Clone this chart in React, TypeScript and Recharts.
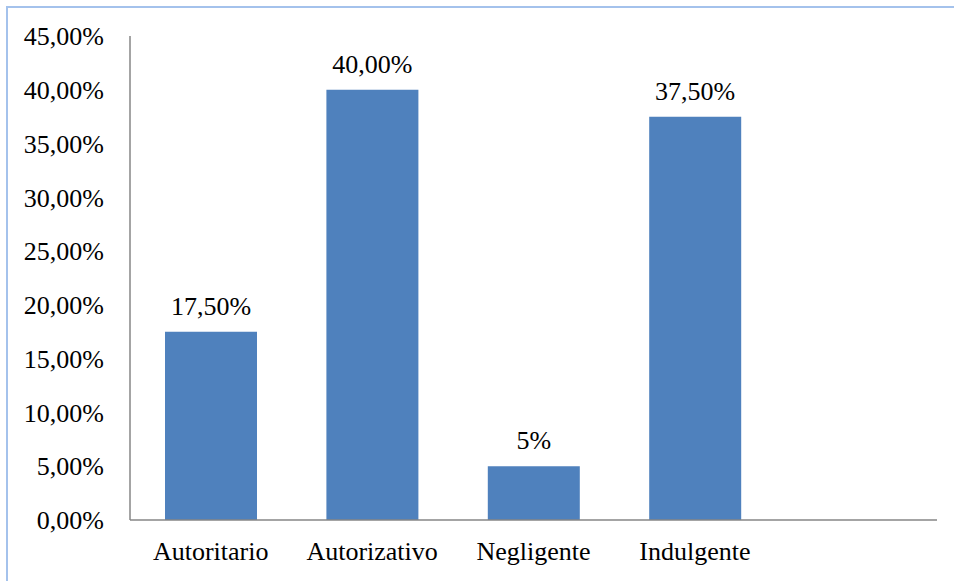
import React from "react";
import { BarChart, Bar, XAxis, YAxis, LabelList } from "recharts";

const categories = ["Autoritario", "Autorizativo", "Negligente", "Indulgente", ""];
const values: (number | null)[] = [17.5, 40, 5, 37.5, null];
const valueLabels = ["17,50%", "40,00%", "5%", "37,50%", ""];
const yTicks = [0, 5, 10, 15, 20, 25, 30, 35, 40, 45];

const data = categories.map((c, i) => ({ name: c, value: values[i], label: valueLabels[i] }));

const fmt = (v: number) => v.toFixed(2).replace(".", ",") + "%";
const font = "'Liberation Serif', 'Times New Roman', serif";

export default function App() {
  return (
    <div style={{ position: "fixed", left: 0, top: 0, width: 954, height: 581, background: "#fff" }}>
      <div
        style={{
          position: "absolute",
          left: 6,
          top: 6,
          right: 0,
          bottom: 0,
          borderTop: "2px solid #a4c2ec",
          borderLeft: "2px solid #a4c2ec",
        }}
      />
      <div style={{ position: "absolute", left: 0, top: 0 }}>
        <BarChart width={954} height={581} data={data} margin={{ top: 36, right: 17, bottom: 31, left: 0 }}>
          <YAxis
            width={130}
            domain={[0, 45]}
            ticks={yTicks}
            tickFormatter={fmt}
            tickLine={false}
            tickSize={0}
            tickMargin={26}
            axisLine={{ stroke: "#868686", strokeWidth: 1.5 }}
            tick={{ fill: "#000", fontSize: 26, fontFamily: font }}
            interval={0}
          />
          <XAxis
            dataKey="name"
            height={30}
            tickLine={false}
            tickSize={0}
            tickMargin={22}
            axisLine={{ stroke: "#868686", strokeWidth: 1.5 }}
            tick={{ fill: "#000", fontSize: 26, fontFamily: font }}
            interval={0}
          />
          <Bar dataKey="value" fill="#4f81bd" barSize={92} isAnimationActive={false}>
            <LabelList dataKey="label" position="top" offset={17} fill="#000" fontSize={26} fontFamily={font} />
          </Bar>
        </BarChart>
      </div>
    </div>
  );
}
